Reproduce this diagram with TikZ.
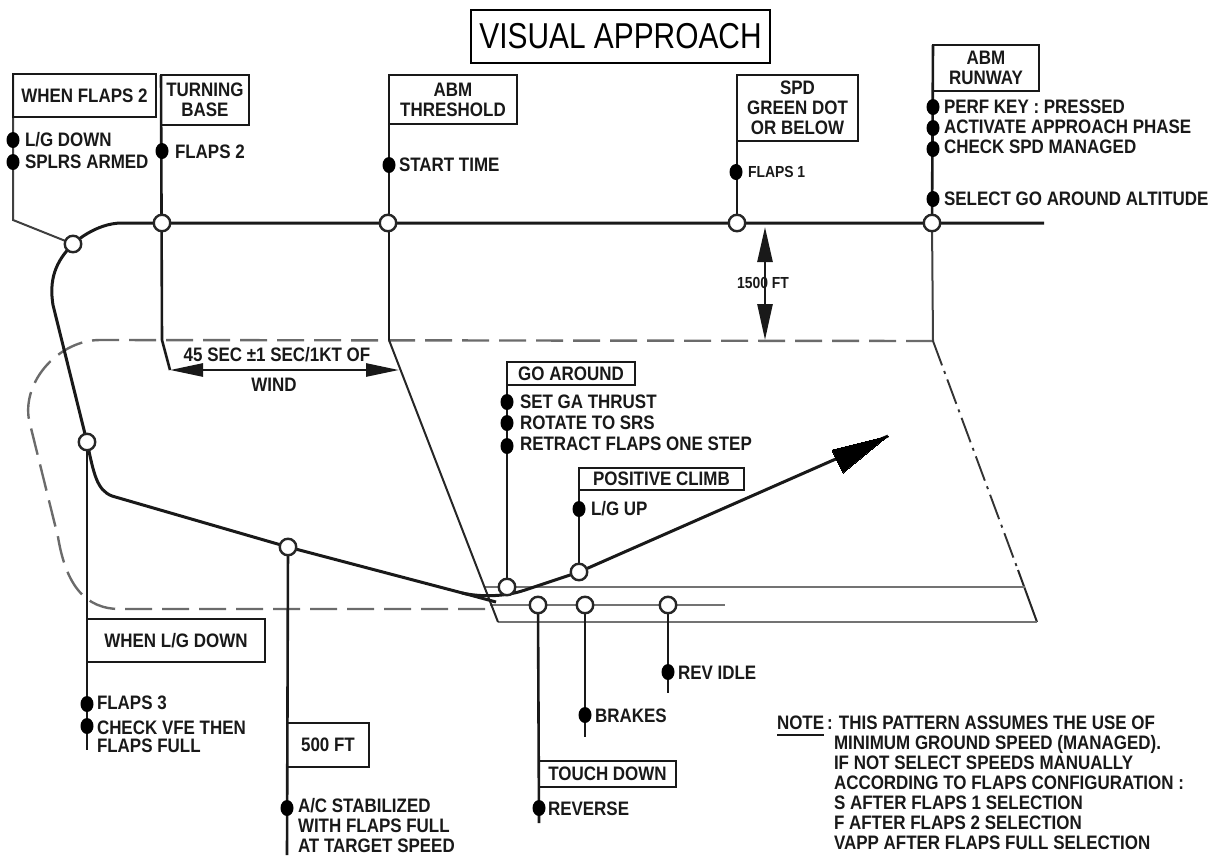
\documentclass[tikz,border=0pt]{standalone}
\usepackage{fontspec}
\usetikzlibrary{arrows.meta,backgrounds,shapes.geometric}
\newfontfamily\lab[FakeStretch=.87]{Liberation Sans}
\newfontfamily\ttl[FakeStretch=.83]{Liberation Sans}
\tikzset{
  labeltext/.style={font=\lab\bfseries\fontsize{19.5}{20}\selectfont,inner sep=0pt,outer sep=0pt,text=black!90},
  lbl/.style={labeltext,anchor=west},
  boxn/.style={labeltext,draw=black!90,line width=2.4pt,align=center},
  opencirc/.style={circle,draw=black!85,fill=white,line width=2.4pt,minimum size=16.5pt,inner sep=0pt},
  dotn/.style={ellipse,fill=black,minimum width=13pt,minimum height=16pt,inner sep=0pt},
  flight/.style={line width=3pt,black!90,line join=round},
  stem/.style={line width=2.6pt,black!90},
  thin stem/.style={line width=2pt,black!75},
  ground/.style={line width=2.4pt,black!55},
  pattern/.style={line width=2.4pt,black!58,dash pattern=on 27pt off 10pt},
  centerl/.style={line width=1.9pt,black!80,dash pattern=on 26pt off 6pt on 3pt off 6pt},
}
\newcommand\mybox[6]{\node[boxn,minimum width={(#4-#2)*1pt},minimum height={(#5-#3)*1pt}] (#1) at ({(#2+#4)/2},{(#3+#5)/2}) {#6};}
\newcommand\mylbl[4]{\node[lbl] (#1) at (#2,#3) {#4};}
\newcommand\mydot[3]{\node[dotn] (#1) at (#2,#3) {};}
\newcommand\myopen[3]{\node[opencirc] (#1) at (#2,#3) {};}
\begin{document}
\begin{tikzpicture}[x=1pt,y=-1pt]
\useasboundingbox (0,0) rectangle (1218,855);
% title
\node[draw=black,line width=2.4pt,inner sep=0pt,minimum width=299pt,minimum height=53pt,font=\ttl\fontsize{36}{36}\selectfont] (title) at (620.5,36.5) {VISUAL APPROACH};
% boxes
\mybox{wf}{13}{74}{156}{117}{WHEN FLAPS 2}
\mybox{tb}{161}{75}{249}{125}{TURNING\\BASE}
\mybox{at}{389}{75}{517}{124}{ABM\\THRESHOLD}
\mybox{sp}{737}{75}{858}{141}{SPD\\GREEN DOT\\OR BELOW}
\mybox{ar}{933}{45}{1039}{91}{ABM\\RUNWAY}
\mybox{ga}{507}{362}{635}{385}{GO AROUND}
\mybox{pc}{579}{468}{744}{490}{POSITIVE CLIMB}
\mybox{wl}{87}{619}{265}{662}{WHEN L/G DOWN}
\mybox{ft}{287}{723}{369}{767}{500 FT}
\mybox{td}{539}{761}{676}{787}{TOUCH DOWN}
% open circles
\myopen{c0}{73}{244}
\myopen{c1}{162}{223}
\myopen{c2}{388}{223}
\myopen{c3}{737}{223}
\myopen{c4}{932}{223}
\myopen{c5}{87}{442}
\myopen{c6}{288}{547}
\myopen{c7}{507}{587}
\myopen{c8}{579}{572}
\myopen{c9}{538}{605}
\myopen{c10}{585}{605}
\myopen{c11}{668}{605}
% dots
\mydot{d1}{13}{140}\mydot{d2}{13}{162}
\mydot{d3}{162}{151}
\mydot{d4}{389}{165}
\mydot{d5}{736}{172}
\mydot{d6}{933}{107}\mydot{d7}{933}{128}\mydot{d8}{933}{149}\mydot{d9}{933}{199}
\mydot{d10}{507}{402}\mydot{d11}{507}{423}\mydot{d12}{507}{446}
\mydot{d13}{579}{509}
\mydot{d14}{87}{704}\mydot{d15}{87}{726}
\mydot{d16}{287}{808}
\mydot{d17}{539}{808}
\mydot{d18}{585}{715}
\mydot{d19}{668}{672}
% labels
\mylbl{l1}{25}{140}{L/G DOWN}
\mylbl{l2}{25}{162}{SPLRS ARMED}
\mylbl{l3}{175}{152}{FLAPS 2}
\mylbl{l4}{399}{165}{START TIME}
\node[lbl,font=\lab\bfseries\fontsize{16}{16}\selectfont] (l5) at (748,172) {FLAPS 1};
\mylbl{l6}{944}{107}{PERF KEY : PRESSED}
\mylbl{l7}{944}{127}{ACTIVATE APPROACH PHASE}
\mylbl{l8}{944}{147}{CHECK SPD MANAGED}
\mylbl{l9}{944}{199}{SELECT GO AROUND ALTITUDE}
\mylbl{l10}{520}{402}{SET GA THRUST}
\mylbl{l11}{520}{423}{ROTATE TO SRS}
\mylbl{l12}{520}{444}{RETRACT FLAPS ONE STEP}
\mylbl{l13}{591}{509}{L/G UP}
\mylbl{l14}{97}{703}{FLAPS 3}
\mylbl{l15}{97}{728}{CHECK VFE THEN}
\mylbl{l16}{97}{746}{FLAPS FULL}
\mylbl{l17}{298}{806}{A/C STABILIZED}
\mylbl{l18}{298}{826}{WITH FLAPS FULL}
\mylbl{l19}{298}{846}{AT TARGET SPEED}
\mylbl{l20}{548}{809}{REVERSE}
\mylbl{l21}{595}{716}{BRAKES}
\mylbl{l22}{678}{673}{REV IDLE}
\node[labeltext] (l23) at (277,355) {45 SEC ±1 SEC/1KT OF};
\node[labeltext] (l24) at (274,385) {WIND};
\node[labeltext,font=\lab\bfseries\fontsize{16}{16}\selectfont] (l25) at (763,283) {1500 FT};
\mylbl{n0}{777}{723}{NOTE}
\mylbl{n1}{827}{723}{: THIS PATTERN ASSUMES THE USE OF}
\mylbl{n2}{834}{744}{MINIMUM GROUND SPEED (MANAGED).}
\mylbl{n3}{834}{763}{IF NOT SELECT SPEEDS MANUALLY}
\mylbl{n4}{834}{783}{ACCORDING TO FLAPS CONFIGURATION :}
\mylbl{n5}{834}{803}{S AFTER FLAPS 1 SELECTION}
\mylbl{n6}{834}{823}{F AFTER FLAPS 2 SELECTION}
\mylbl{n7}{834}{843}{VAPP AFTER FLAPS FULL SELECTION}
% free ends
\coordinate (tbb) at (162,340);
\coordinate (tbe) at (170,370);
\coordinate (atb) at (389,340);
\coordinate (rwl) at (498,622);
\coordinate (rwr) at (1037,622);
\coordinate (arb) at (933,341);
\coordinate (mainend) at (1044,223);
\coordinate (wfb) at (13,220);
\coordinate (wle) at (87,750);
\coordinate (fte) at (287,855);
\coordinate (tde) at (539,823);
\coordinate (bre) at (585,737);
\coordinate (rie) at (668,693);
\coordinate (arrowtip) at (888,436);
\coordinate (a1l) at (170,370);
\coordinate (a1r) at (399,370);
\coordinate (a2t) at (765,227);
\coordinate (a2b) at (765,340);
\begin{scope}[on background layer]
% dashed pattern
\draw[pattern] (arb) -- (100,340) .. controls (60,340) and (22,380) .. (29,420)
  -- (58,537) .. controls (66,585) and (85,609) .. (120,609) -- (492,609);
% runway
\draw[centerl] (arb) -- (1018,570);
\draw[thin stem,black!85] (1018,570) -- (rwr);
\draw[ground] (rwl) -- (rwr);
\draw[ground] (484,587) -- (1025,587);
\draw[ground] (490,605) -- (725,605);
\draw[thin stem,black!85] (atb) -- (rwl);
% stems
\draw[thin stem] (wf.north west) -- (wfb) -- (c0.center);
\draw[stem] (tb.north west) -- (tbb) -- (tbe);
\draw[stem] (at.north west) -- (atb);
\draw[stem] (sp.north west) -- (c3.center);
\draw[stem] (ar.north west) -- (c4.center);
\draw[thin stem] (c4.center) -- (arb);
\draw[stem] (ga.north west) -- (c7.center);
\draw[stem] (pc.north west) -- (c8.center);
\draw[stem] (c5.center) -- (wle);
\draw[stem] (c6.center) -- (fte);
\draw[stem] (c9.center) -- (tde);
\draw[stem] (c10.center) -- (bre);
\draw[stem] (c11.center) -- (rie);
% flight path
\draw[flight] (mainend) -- (c1.center) -- (122,223) .. controls (95,223) and (73,244) .. (c0.center)
  .. controls (55,262) and (49,280) .. (53,305) -- (c5.center)
  .. controls (94,475) and (97,490) .. (112,496) -- (c6.center) -- (470,595) -- (496,602);
\draw[flight] (462,593) .. controls (480,597) and (505,597) .. (525,590) -- (c8.center)
  -- (arrowtip);
\draw[line width=0pt,fill=black] (arrowtip) -- (832,450) -- (843,473) -- cycle;
% dimension arrows
\draw[stem,{Triangle[length=33pt,width=13pt]}-{Triangle[length=33pt,width=13pt]}] (a1l) -- (a1r);
\draw[stem,{Triangle[length=35pt,width=15pt]}-{Triangle[length=36pt,width=15pt]}] (a2t) -- (a2b);
\draw[stem] (n0.south west) ++(0,5) -- ++(47,0);
\end{scope}
\end{tikzpicture}
\end{document}
